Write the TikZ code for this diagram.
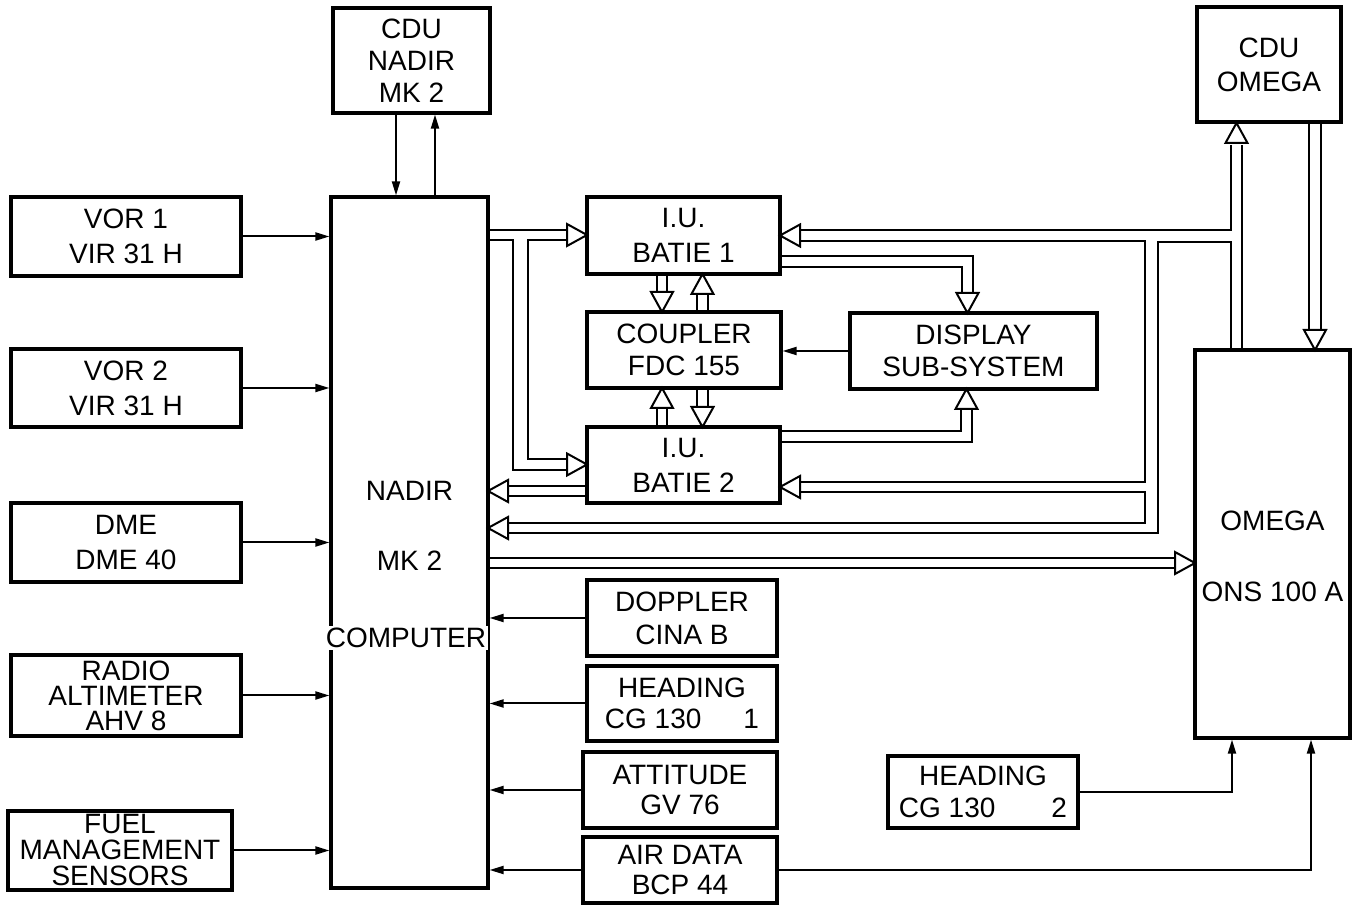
\documentclass[tikz,border=0pt]{standalone}
\usepackage{fontspec}
\setmainfont{Liberation Sans}
\usetikzlibrary{arrows.meta}
\tikzset{
  box/.style={draw, line width=1.6pt, inner sep=0pt, align=center, font=\fontsize{14}{17.5}\selectfont},
  txt/.style={inner sep=1pt, font=\fontsize{14}{17}\selectfont},
  sig/.style={line width=1pt, -{Triangle[length=7pt,width=4pt]}},
  bus/.style={line width=1pt},
  triR/.pic={\draw[bus,fill=white] (0,0) -- (-20,-11) -- (-20,11) -- cycle;},
  triL/.pic={\draw[bus,fill=white] (0,0) -- (20,-11) -- (20,11) -- cycle;},
  triU/.pic={\draw[bus,fill=white] (0,0) -- (-11,20) -- (11,20) -- cycle;},
  triD/.pic={\draw[bus,fill=white] (0,0) -- (-11,-20) -- (11,-20) -- cycle;},
}
\begin{document}
\begin{tikzpicture}[x=0.5pt,y=-0.5pt]
\useasboundingbox (0,0) rectangle (1361,913);
% boxes
\node[box, minimum width=78.5pt, minimum height=52.5pt, font=\fontsize{14}{16}\selectfont] (cdun) at (411.5,60.5) {CDU\\NADIR\\MK 2};
\node[box, minimum width=78.5pt, minimum height=345.5pt] (nadir) at (409.5,542.5) {};
\node[box, minimum width=115pt, minimum height=39.5pt] (vor1) at (126,236.5) {VOR 1\\VIR 31 H};
\node[box, minimum width=115pt, minimum height=39pt] (vor2) at (126,388) {VOR 2\\VIR 31 H};
\node[box, minimum width=115pt, minimum height=39.5pt] (dme) at (126,542.5) {DME\\DME 40};
\node[box, minimum width=115pt, minimum height=40.5pt, font=\fontsize{14}{12.5}\selectfont] (radio) at (126,695.5) {RADIO\\ALTIMETER\\AHV 8};
\node[box, minimum width=112pt, minimum height=39.5pt, font=\fontsize{14}{13}\selectfont] (fuel) at (120,850.5) {FUEL\\MANAGEMENT\\SENSORS};
\node[box, minimum width=96.5pt, minimum height=38.5pt] (batie1) at (683.5,235.5) {I.U.\\BATIE 1};
\node[box, minimum width=97pt, minimum height=38pt, font=\fontsize{14}{16}\selectfont] (coupler) at (684,350) {COUPLER\\FDC 155};
\node[box, minimum width=96.5pt, minimum height=38pt] (batie2) at (683.5,465) {I.U.\\BATIE 2};
\node[box, minimum width=123.5pt, minimum height=38pt, font=\fontsize{14}{16}\selectfont] (display) at (973.5,351) {DISPLAY\\SUB-SYSTEM};
\node[box, minimum width=95pt, minimum height=38pt, font=\fontsize{14}{16.5}\selectfont] (doppler) at (682,618) {DOPPLER\\CINA B};
\node[box, minimum width=95pt, minimum height=37.5pt, font=\fontsize{14}{15.5}\selectfont] (heading1) at (682,703.5) {HEADING\\CG 130\hspace{1.5em}1};
\node[box, minimum width=97pt, minimum height=38pt, font=\fontsize{14}{15}\selectfont] (attitude) at (680,790) {ATTITUDE\\GV 76};
\node[box, minimum width=97pt, minimum height=33pt, font=\fontsize{14}{15}\selectfont] (airdata) at (680,870) {AIR DATA\\BCP 44};
\node[box, minimum width=95pt, minimum height=36pt, font=\fontsize{14}{16}\selectfont] (heading2) at (983,792) {HEADING\\CG 130\hspace{2em}2};
\node[box, minimum width=77.5pt, minimum height=194pt] (omega) at (1272.5,544) {};
\node[box, minimum width=72pt, minimum height=57.5pt, font=\fontsize{14}{17}\selectfont] (cduo) at (1269,64.5) {CDU\\OMEGA};
% texts inside tall boxes
\node[txt] (nadirt) at (409.5,491) {NADIR};
\node[txt] (mkt) at (409.5,561) {MK 2};
\node[txt, fill=white] (compt) at (406,638) {COMPUTER};
\node[txt] (omegat) at (1272.5,521) {OMEGA};
\node[txt] (onst) at (1272.5,592) {ONS 100 A};
% single signal lines
\foreach \n in {vor1,vor2,dme,radio,fuel}
  \draw[sig] (\n.east) -- (\n.east -| nadir.west);
\foreach \n in {doppler,heading1,attitude,airdata}
  \draw[sig] (\n.west) -- (\n.west -| nadir.east);
\draw[sig] ([xshift=-7.75pt]cdun.south) -- ([xshift=-7.75pt]cdun.south |- nadir.north);
\draw[sig] ([xshift=11.75pt]cdun.south |- nadir.north) -- ([xshift=11.75pt]cdun.south);
\draw[sig] (display.west) -- (display.west -| coupler.east);
\draw[sig] (heading2.east) -| ([xshift=-20.25pt]omega.south);
\draw[sig] (airdata.east) -| ([xshift=19.25pt]omega.south);
% bus NADIR -> BATIE 1 / BATIE 2
\draw[bus] (488,230) -- (567,230);
\draw[bus] (488,240) -- (513,240) -- (513,470) -- (567,470);
\draw[bus] (567,240) -- (528,240) -- (528,459) -- (567,459);
\pic at (587,235) {triR};
\pic at (587,464.5) {triR};
% BATIE 2 -> NADIR
\draw[bus] (587,486) -- (508,486);
\draw[bus] (587,496) -- (508,496);
\pic at (488,491) {triL};
% OMEGA bus -> CDU OMEGA, BATIE 1, BATIE 2, NADIR
\draw[bus] (1231,145) -- (1231,230) -- (800,230);
\draw[bus] (800,241) -- (1145,241) -- (1145,482) -- (800,482);
\draw[bus] (800,492) -- (1145,492) -- (1145,523) -- (508,523);
\draw[bus] (508,533) -- (1158,533) -- (1158,242) -- (1231,242) -- (1231,350);
\draw[bus] (1242,350) -- (1242,145);
\pic at (780,235.5) {triL};
\pic at (780,487) {triL};
\pic at (488,528) {triL};
\pic at (1236.5,123) {triU};
% CDU OMEGA -> OMEGA
\draw[bus] (1309,123) -- (1309,330);
\draw[bus] (1321,123) -- (1321,330);
\pic at (1315,350) {triD};
% NADIR -> OMEGA
\draw[bus] (488,558) -- (1175,558);
\draw[bus] (488,568) -- (1175,568);
\pic at (1195,563) {triR};
% BATIE 1 -> DISPLAY
\draw[bus] (780,256) -- (973,256) -- (973,293);
\draw[bus] (780,267) -- (962,267) -- (962,293);
\pic at (967.5,313) {triD};
% BATIE 2 -> DISPLAY
\draw[bus] (780,431) -- (961,431) -- (961,409);
\draw[bus] (780,442) -- (972,442) -- (972,409);
\pic at (966.5,389) {triU};
% BATIE / COUPLER links
\draw[bus] (657,274) -- (657,292);
\draw[bus] (667,274) -- (667,292);
\pic at (662,312) {triD};
\draw[bus] (697,312) -- (697,294);
\draw[bus] (708,312) -- (708,294);
\pic at (702.5,274) {triU};
\draw[bus] (657,427) -- (657,408);
\draw[bus] (667,427) -- (667,408);
\pic at (662,388) {triU};
\draw[bus] (697,388) -- (697,407);
\draw[bus] (708,388) -- (708,407);
\pic at (702.5,427) {triD};
\end{tikzpicture}
\end{document}
